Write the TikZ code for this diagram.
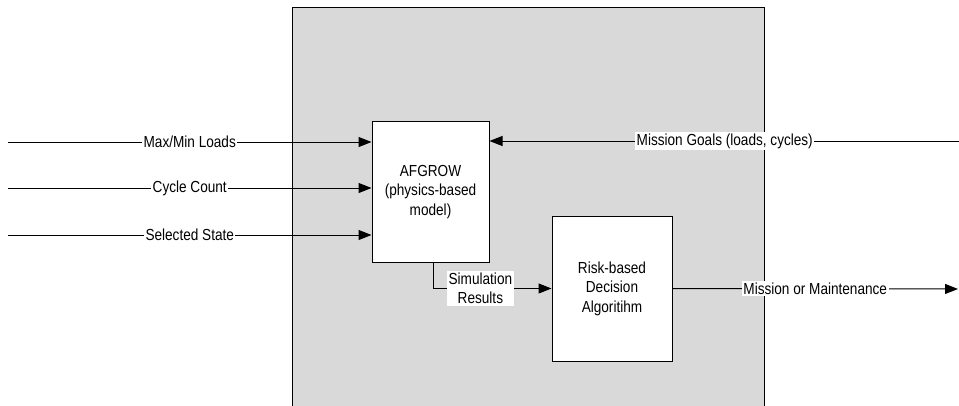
\documentclass[tikz,border=0pt]{standalone}
\usepackage{fontspec}
\setmainfont{Liberation Sans}[FakeStretch=0.85]
\usepackage{tikz}
\usetikzlibrary{arrows.meta}
\definecolor{panelgray}{HTML}{D9D9D9}
\tikzstyle{block}    = [rectangle,
                        draw,
                        fill=white,
                        align=center,
                        line width=1pt,
                        inner sep=0pt]
\tikzstyle{line}     = [draw, line width=1pt, -{Triangle[length=13pt,width=10pt]}]
\tikzstyle{lbl}      = [fill=white, inner sep=1.5pt, align=center]

\begin{document}
\begin{tikzpicture}[%
  x=1pt,
  y=-1pt,
  every node/.style={font=\fontsize{16}{19.5}\selectfont},
  % Grey background panel:
  panel/.style={%
    draw,
    fill=panelgray,
    line width=1pt,
    inner sep=0pt,
    anchor=north west
  }
  ]
  \clip (0,0) rectangle (959,405);

  % Nodes:
  \node (t-panel) [panel, minimum width=472pt, minimum height=430pt] at (292,7) {};
  \node (t-afgrow) [block, minimum width=117pt, minimum height=141pt] at (430.5,192) {AFGROW\\(physics-based\\model)};
  \node (t-risk) [block, minimum width=120pt, minimum height=145pt] at (612,288.5) {Risk-based\\Decision\\Algoritihm};

  \coordinate (in-loads) at (8,142);
  \coordinate (in-cycles) at (8,188);
  \coordinate (in-state) at (8,235);
  \coordinate (goals-in) at (960,141);
  \coordinate (out-end) at (958,289);

  % Connectors:
  \draw[line] (in-loads) -- node[lbl] {Max/Min Loads} (t-afgrow.west |- in-loads);
  \draw[line] (in-cycles) -- node[lbl] {Cycle Count} (t-afgrow.west |- in-cycles);
  \draw[line] (in-state) -- node[lbl] {Selected State} (t-afgrow.west |- in-state);
  \draw[line] (goals-in) -- node[lbl] {Mission Goals (loads, cycles)} (t-afgrow.east |- goals-in);
  \draw[line] ([xshift=2.5pt]t-afgrow.south) |- node[lbl, pos=.7] {Simulation\\Results} (t-risk.west);
  \draw[line] (t-risk.east) -- node[lbl] {Mission or Maintenance} (out-end);
\end{tikzpicture}
\end{document}
